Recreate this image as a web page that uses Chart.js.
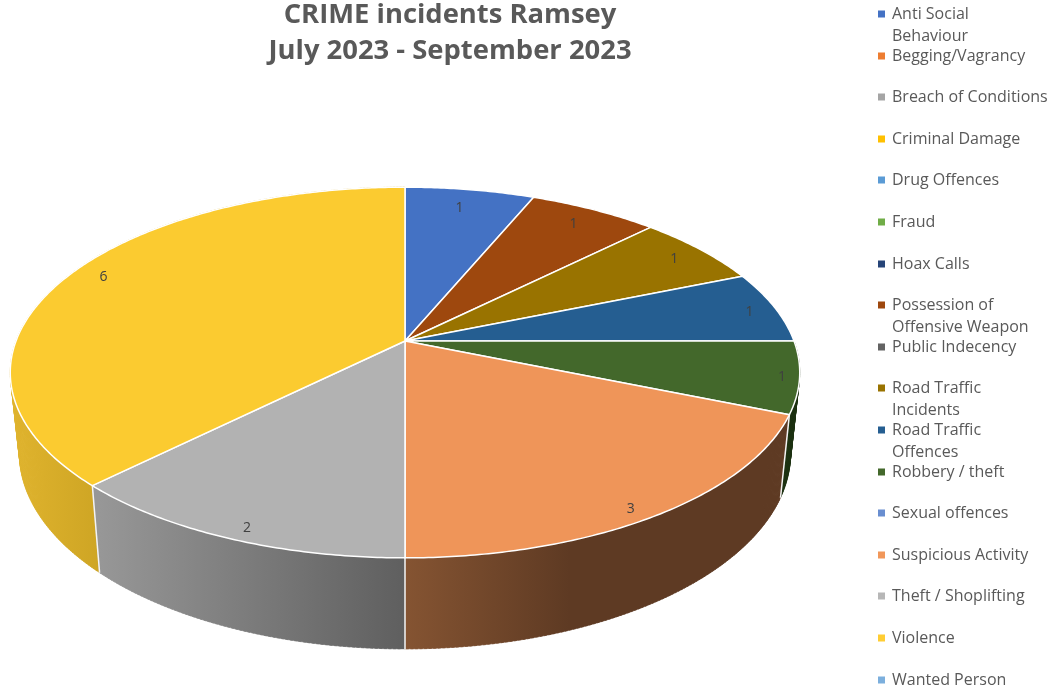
<!DOCTYPE html>
<html>
<head>
<meta charset="utf-8">
<title>CRIME incidents Ramsey</title>
<script src="https://cdn.jsdelivr.net/npm/chart.js@4"></script>
<style>
    html, body { margin: 0; padding: 0; background: #fff; overflow: hidden; }
    canvas { display: block; }
</style>
</head>
<body>
<canvas id="grafica" width="1051" height="689"></canvas>
<script>
var titleLines = ['CRIME incidents Ramsey', 'July 2023 - September 2023'];
var categories = ['Anti Social Behaviour', 'Begging/Vagrancy', 'Breach of Conditions',
    'Criminal Damage', 'Drug Offences', 'Fraud', 'Hoax Calls',
    'Possession of Offensive Weapon', 'Public Indecency', 'Road Traffic Incidents',
    'Road Traffic Offences', 'Robbery / theft', 'Sexual offences', 'Suspicious Activity',
    'Theft / Shoplifting', 'Violence', 'Wanted Person'];
var incidents = [1, 0, 0, 0, 0, 0, 0, 1, 0, 1, 1, 1, 0, 3, 2, 6, 0];
var sliceColours = ['#4472C4', '#ED7D31', '#A5A5A5', '#FFC000', '#5B9BD5', '#70AD47', '#264478',
    '#9E480E', '#636363', '#997300', '#255E91', '#43682B', '#698ED0', '#F1975A',
    '#B7B7B7', '#FFCD33', '#7CAFDD'];
var topColours = { 'Violence': '#FBCB30', 'Theft / Shoplifting': '#B2B2B2', 'Suspicious Activity': '#EF9559' };
// Legend wraps these names at a fixed place
var legendWraps = {
    'Anti Social Behaviour': ['Anti Social', 'Behaviour'],
    'Possession of Offensive Weapon': ['Possession of', 'Offensive Weapon'],
    'Road Traffic Incidents': ['Road Traffic', 'Incidents'],
    'Road Traffic Offences': ['Road Traffic', 'Offences']
};
// Side wall gradient: colour stops per slice [left colour, right colour, x0, x1]
var wallShades = {
    'Violence': ['#DFB32D', '#CEA524', 15, 100],
    'Theft / Shoplifting': ['#979797', '#5F5F5F', 100, 405],
    'Suspicious Activity': ['#855432', '#5E3A23', 405, 570],
    'Robbery / theft': ['#1B3010', '#1B3010', 780, 800]
};
// Value labels do not sit on one radius in the original, small shifts in px
var labelNudges = {
    'Anti Social Behaviour': [-5, 5],
    'Possession of Offensive Weapon': [-4, 3],
    'Road Traffic Incidents': [1, 1],
    'Road Traffic Offences': [11, 2],
    'Robbery / theft': [23, 3],
    'Suspicious Activity': [3, 14],
    'Theft / Shoplifting': [-2, 13],
    'Violence': [4, -5]
};

// Perspective model of the disc, top rim and bottom rim
var disc = { cx: 405, cy: 341, rx: 389, ry: 180, k: 0.17 };
var rimBottom = { cx: 405, cy: 420, rx: 380, ry: 190, k: 0.17 };

function project(ring, angle, r) {
    var x = Math.cos(angle) * r;
    var y = Math.sin(angle) * r;
    var w = 1 - ring.k * y;
    return { x: ring.cx + ring.rx * x / w, y: ring.cy + ring.ry * y / w };
}

function rimPath(ctx, ring, from, to) {
    var steps = Math.max(2, Math.ceil(Math.abs(to - from) / 0.01));
    for (var s = 0; s <= steps; s++) {
        var p = project(ring, from + (to - from) * s / steps, 1);
        ctx.lineTo(p.x, p.y);
    }
}

// Wall as thin strips, so the silhouette follows the sweep of top rim to bottom rim
function drawWall(ctx, from, to, fill) {
    var step = 0.01;
    ctx.fillStyle = fill;
    ctx.strokeStyle = fill;
    ctx.lineWidth = 0.5;
    for (var a = from; a < to; a += step) {
        var b = Math.min(a + step * 1.6, to);
        var p1 = project(disc, a, 1), p2 = project(disc, b, 1);
        var p3 = project(rimBottom, b, 1), p4 = project(rimBottom, a, 1);
        ctx.beginPath();
        ctx.moveTo(p1.x, p1.y);
        ctx.lineTo(p2.x, p2.y);
        ctx.lineTo(p3.x, p3.y);
        ctx.lineTo(p4.x, p4.y);
        ctx.closePath();
        ctx.fill();
        ctx.stroke();
    }
}

var pie3d = {
    id: 'pie3d',
    // The library works out the angles, this only draws them in perspective
    beforeDatasetsDraw: function (chart) {
        var ctx = chart.ctx;
        var arcs = chart.getDatasetMeta(0).data;
        var drawn = [];
        arcs.forEach(function (arc, i) {
            if (incidents[i] > 0) { drawn.push({ arc: arc, i: i }); }
        });

        // Walls, the ones furthest from the front first
        drawn.slice().sort(function (a, b) {
            var ma = Math.abs((a.arc.startAngle + a.arc.endAngle) / 2 - Math.PI / 2);
            var mb = Math.abs((b.arc.startAngle + b.arc.endAngle) / 2 - Math.PI / 2);
            return mb - ma;
        }).forEach(function (d) {
            var shade = wallShades[categories[d.i]];
            if (!shade) { return; }
            var g = ctx.createLinearGradient(shade[2], 0, shade[3], 0);
            g.addColorStop(0, shade[0]);
            g.addColorStop(1, shade[1]);
            drawWall(ctx, d.arc.startAngle, d.arc.endAngle, g);
        });

        // Seams between walls
        ctx.strokeStyle = '#F4F4F4';
        ctx.lineWidth = 1.5;
        drawn.forEach(function (d) {
            var a = project(disc, d.arc.startAngle, 1);
            var b = project(rimBottom, d.arc.startAngle, 1);
            ctx.beginPath();
            ctx.moveTo(a.x, a.y);
            ctx.lineTo(b.x, b.y);
            ctx.stroke();
        });

        // Top faces
        ctx.lineJoin = 'round';
        drawn.forEach(function (d) {
            ctx.beginPath();
            ctx.moveTo(disc.cx, disc.cy);
            rimPath(ctx, disc, d.arc.startAngle, d.arc.endAngle);
            ctx.closePath();
            ctx.fillStyle = topColours[categories[d.i]] || sliceColours[d.i];
            ctx.fill();
            ctx.strokeStyle = '#FFFFFF';
            ctx.lineWidth = 1.5;
            ctx.stroke();
        });

        // Value labels
        ctx.font = '14px "Open Sans"';
        ctx.fillStyle = '#404040';
        ctx.textAlign = 'center';
        ctx.textBaseline = 'middle';
        drawn.forEach(function (d) {
            var p = project(disc, (d.arc.startAngle + d.arc.endAngle) / 2, 0.9);
            var nudge = labelNudges[categories[d.i]] || [0, 0];
            ctx.fillText(String(incidents[d.i]), p.x + nudge[0], p.y + nudge[1]);
        });
        return false;
    },
    // Fixed line spacing, wrapped names run into the next entry as in the original
    afterDraw: function (chart) {
        var ctx = chart.ctx;
        ctx.save();
        ctx.font = '16px "Open Sans"';
        ctx.textAlign = 'left';
        ctx.textBaseline = 'middle';
        categories.forEach(function (name, i) {
            var y = Math.round(14 + i * 41.6);
            ctx.fillStyle = sliceColours[i];
            ctx.fillRect(878, y - 3.5, 7, 7);
            ctx.fillStyle = '#595959';
            (legendWraps[name] || [name]).forEach(function (line, n) {
                ctx.fillText(line, 892, y + n * 22.5);
            });
        });
        ctx.restore();
    }
};

var chart = new Chart(document.getElementById('grafica').getContext('2d'), {
    type: 'pie',
    data: {
        labels: categories,
        datasets: [{ data: incidents, backgroundColor: sliceColours }]
    },
    options: {
        responsive: false,
        animation: false,
        layout: { padding: { right: 151 } },
        plugins: {
            legend: { display: false },
            tooltip: { enabled: false },
            title: {
                display: true,
                text: titleLines,
                color: '#595959',
                font: { family: '"Open Sans"', size: 27.4, weight: '700', lineHeight: 1.33 },
                padding: { top: -3, bottom: 0 }
            }
        }
    },
    plugins: [pie3d]
});
</script>
</body>
</html>
